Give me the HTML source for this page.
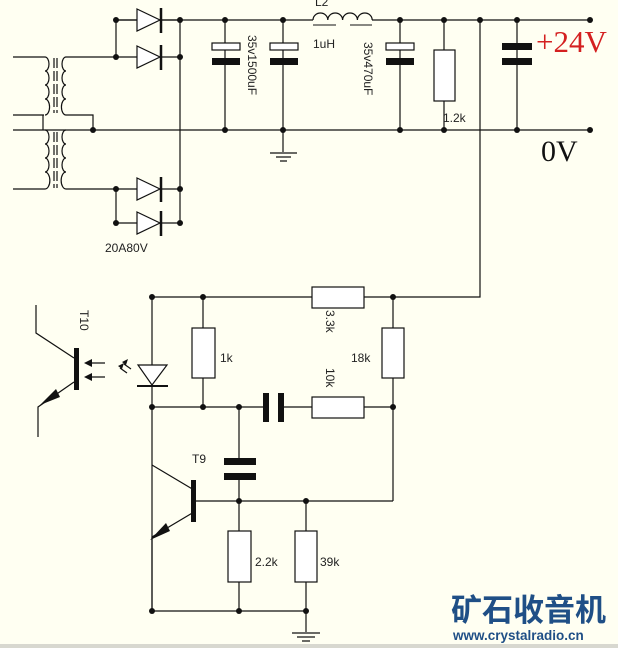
<!DOCTYPE html>
<html><head><meta charset="utf-8"><style>
body{margin:0;background:#fffff2}
svg{display:block}
text{font-family:"Liberation Sans",sans-serif;font-size:12px;fill:#222}
</style></head><body>
<svg width="618" height="648" viewBox="0 0 618 648" xmlns="http://www.w3.org/2000/svg">
<rect width="618" height="648" fill="#fffff2"/>
<g stroke="#111" stroke-width="1.2" fill="none">
<path d="M13 57H45 M13 115H44 M43 115V130 M13 130H45 M13 189H45"/>
<path d="M45 57 a4 7 0 0 1 0 14 a4 7 0 0 1 0 14 a4 7 0 0 1 0 14 a4 7 0 0 1 0 16"/>
<path d="M45 130 a4 7 0 0 1 0 14 a4 7 0 0 1 0 14 a4 7 0 0 1 0 14 a4 7 0 0 1 0 17"/>
<path d="M54 58V113 M57 58V113 M54 132V188 M57 132V188" stroke-dasharray="10 3"/>
<path d="M66 57 a4 7 0 0 0 0 14 a4 7 0 0 0 0 14 a4 7 0 0 0 0 14 a4 7 0 0 0 0 16"/>
<path d="M66 130 a4 7 0 0 0 0 14 a4 7 0 0 0 0 14 a4 7 0 0 0 0 14 a4 7 0 0 0 0 17"/>
<path d="M66 57H116 M66 115H93V130 M66 189H116"/>
<path d="M116 20H313 M372 20H590 M45 130H590"/>
<path d="M116 20V57 M116 189V223 M180 20V223"/>
<path d="M116 57H137 M116 189H137 M116 223H137 M116 20H137"/>
<g fill="#fff">
<path d="M137 9L160 20L137 31Z M137 46L160 57L137 68Z M137 178L160 189L137 200Z M137 212L160 223L137 234Z"/>
</g>
<path d="M161 8V33 M161 45V70 M161 177V202 M161 211V236" stroke-width="2.5"/>
<path d="M162 20H180 M162 57H180 M162 189H180 M162 223H180"/>
<path d="M225 20V130 M283 20V152 M400 20V130 M444 20V130 M517 20V130 M480 20V297H152"/>
<rect x="212" y="43" width="28" height="7" fill="#fff"/>
<rect x="270" y="43" width="28" height="7" fill="#fff"/>
<rect x="386" y="43" width="28" height="7" fill="#fff"/>
<rect x="434" y="50" width="21" height="51" fill="#fff"/>
<path d="M270 153H297 M276 157H291 M280 161H287"/>
<path d="M313 20 a7.4 7 0 0 1 14.8 0 a7.4 7 0 0 1 14.8 0 a7.4 7 0 0 1 14.8 0 a7.4 7 0 0 1 14.8 0"/>
<path d="M313 25H336 M350 25H372" stroke-width="1"/>
<path d="M152 297V611 M203 297V407 M393 297V501 M152 407H264 M284 407H393 M239 407V458 M239 480V611 M194 501H393 M306 501V632 M152 611H306"/>
<rect x="312" y="287" width="52" height="21" fill="#fff"/>
<rect x="192" y="328" width="23" height="50" fill="#fff"/>
<rect x="382" y="328" width="22" height="50" fill="#fff"/>
<rect x="312" y="397" width="52" height="21" fill="#fff"/>
<rect x="228" y="531" width="23" height="51" fill="#fff"/>
<rect x="295" y="531" width="22" height="51" fill="#fff"/>
<path d="M292 633H320 M297 637H315 M302 641H310"/>
<path d="M138 365H167L152 385Z" fill="#fff"/>
<path d="M137 386H168" stroke-width="2"/>
<path d="M120 368L127 373 M124 364L131 369" />
<path d="M152 465L194 490 M194 512L152 537V611"/>
<path d="M36 305V333L74 358 M74 382L38 407V437 M105 363H88 M105 377H88"/>
</g>
<g fill="#111">
<rect x="212" y="58" width="28" height="7"/>
<rect x="270" y="58" width="28" height="7"/>
<rect x="386" y="58" width="28" height="7"/>
<rect x="502" y="43" width="30" height="7"/>
<rect x="502" y="58" width="30" height="7"/>
<rect x="263" y="393" width="6" height="29"/>
<rect x="278" y="393" width="6" height="29"/>
<rect x="224" y="458" width="32" height="7"/>
<rect x="224" y="473" width="32" height="7"/>
<rect x="191" y="480" width="5" height="42"/>
<rect x="74" y="348" width="5" height="42"/>
<path d="M150 540L166 523L170 531Z"/>
<path d="M40 405L56 389L60 397Z"/>
<path d="M84 363L92 359V367Z M84 377L92 373V381Z"/>
<path d="M118 366L124 363L122 369Z M122 362L128 359L126 365Z"/>
<g>
<circle cx="116" cy="20" r="3"/><circle cx="180" cy="20" r="3"/><circle cx="116" cy="57" r="3"/><circle cx="180" cy="57" r="3"/>
<circle cx="116" cy="189" r="3"/><circle cx="180" cy="189" r="3"/><circle cx="116" cy="223" r="3"/><circle cx="180" cy="223" r="3"/>
<circle cx="93" cy="130" r="3"/><circle cx="225" cy="20" r="3"/><circle cx="225" cy="130" r="3"/><circle cx="283" cy="20" r="3"/><circle cx="283" cy="130" r="3"/>
<circle cx="400" cy="20" r="3"/><circle cx="400" cy="130" r="3"/><circle cx="444" cy="20" r="3"/><circle cx="444" cy="130" r="3"/>
<circle cx="480" cy="20" r="3"/><circle cx="517" cy="20" r="3"/><circle cx="517" cy="130" r="3"/><circle cx="590" cy="20" r="3"/><circle cx="590" cy="130" r="3"/>
<circle cx="152" cy="297" r="3"/><circle cx="203" cy="297" r="3"/><circle cx="393" cy="297" r="3"/>
<circle cx="152" cy="407" r="3"/><circle cx="203" cy="407" r="3"/><circle cx="239" cy="407" r="3"/><circle cx="393" cy="407" r="3"/>
<circle cx="239" cy="501" r="3"/><circle cx="306" cy="501" r="3"/>
<circle cx="152" cy="611" r="3"/><circle cx="239" cy="611" r="3"/><circle cx="306" cy="611" r="3"/>
</g>
</g>
<text x="105" y="252">20A80V</text>
<text x="315" y="6">L2</text>
<text x="313" y="48">1uH</text>
<text x="443" y="122">1.2k</text>
<text transform="translate(248,35) rotate(90)">35v1500uF</text>
<text transform="translate(364,42) rotate(90)">35v470uF</text>
<text transform="translate(326,310) rotate(90)">3.3k</text>
<text transform="translate(326,368) rotate(90)">10k</text>
<text transform="translate(80,310) rotate(90)">T10</text>
<text x="220" y="362">1k</text>
<text x="351" y="362">18k</text>
<text x="192" y="463">T9</text>
<text x="255" y="566">2.2k</text>
<text x="320" y="566">39k</text>
<text x="536" y="52" style="font-family:'Liberation Serif',serif;font-size:31px;fill:#d42020">+24V</text>
<text x="541" y="161" style="font-family:'Liberation Serif',serif;font-size:30px;fill:#111">0V</text>
<text x="451" y="621" style="font-family:'Liberation Sans','Noto Sans CJK SC',sans-serif;font-size:31px;font-weight:bold;fill:#1f4f86">矿石收音机</text>
<text x="453" y="640" style="font-size:13.5px;font-weight:bold;fill:#1f4f86">www.crystalradio.cn</text>
<rect x="0" y="644" width="618" height="4" fill="#d8d8d0"/>
</svg>
</body></html>
